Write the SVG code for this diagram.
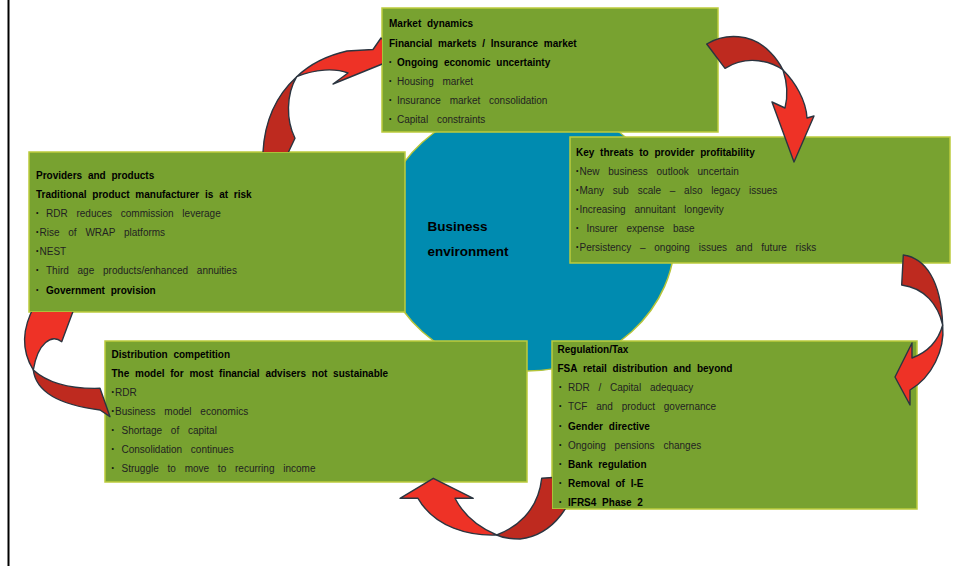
<svg xmlns="http://www.w3.org/2000/svg" width="954" height="566" viewBox="0 0 954 566">
<style>
  .box { fill: #78a230; stroke: #bccb3c; stroke-width: 1.5; }
  .h { font-family: "Liberation Sans", Arial, sans-serif; font-size: 10px; font-weight: bold; word-spacing: 3px; fill: #000; }
  .r { font-family: "Liberation Sans", Arial, sans-serif; font-size: 10px; word-spacing: 6px; fill: #222; }
  .bu { font-family: "Liberation Sans", Arial, sans-serif; font-size: 7px; fill: #111; baseline-shift: 1.6px; }
  .c { font-family: "Liberation Sans", Arial, sans-serif; font-size: 13.5px; font-weight: bold; fill: #000; }
  .dk { fill: #be2a1f; stroke: #2b3540; stroke-width: 1.4; stroke-linejoin: round; }
  .br { fill: #ee3226; stroke: #2b3540; stroke-width: 1.4; stroke-linejoin: round; }
</style>
<defs>
  <clipPath id="clip1"><path clip-rule="evenodd" d="M0,0H954V566H0Z M29,152H405V312H29Z M382,8H718V132H382Z"/></clipPath>
  <clipPath id="clip4"><path clip-rule="evenodd" d="M0,0H954V566H0Z M552,341H917V509H552Z"/></clipPath>
  <clipPath id="clip5"><path clip-rule="evenodd" d="M0,0H954V566H0Z M29,152H405V312H29Z"/></clipPath>
</defs>
<rect x="0" y="0" width="954" height="566" fill="#fff"/>
<line x1="8.5" y1="0" x2="8.5" y2="566" stroke="#000" stroke-width="2"/>

<g id="center">
  <ellipse cx="527" cy="237" rx="148" ry="134" fill="#008bb0" stroke="#b5c43a" stroke-width="1.5"/>
  <text class="c" x="427.5" y="230.5">Business</text>
  <text class="c" x="427.5" y="256">environment</text>
</g>

<g id="market">
  <rect class="box" x="382" y="8" width="336" height="124"/>
  <text class="h" x="389" y="27">Market dynamics</text>
  <text class="h" x="389" y="46.5">Financial markets / Insurance market</text>
  <text x="389" y="65.5"><tspan class="bu">•</tspan><tspan class="h" x="397">Ongoing economic uncertainty</tspan></text>
  <text x="389" y="84.5"><tspan class="bu">•</tspan><tspan class="r" x="397">Housing market</tspan></text>
  <text x="389" y="103.5"><tspan class="bu">•</tspan><tspan class="r" x="397">Insurance market consolidation</tspan></text>
  <text x="389" y="123"><tspan class="bu">•</tspan><tspan class="r" x="397">Capital constraints</tspan></text>
</g>

<g id="providers">
  <rect class="box" x="29" y="152" width="376" height="160"/>
  <text class="h" x="36" y="178.5">Providers and products</text>
  <text class="h" x="36" y="197.5">Traditional product manufacturer is at risk</text>
  <text x="36" y="216.5"><tspan class="bu">•</tspan><tspan class="r" x="46">RDR reduces commission leverage</tspan></text>
  <text x="36" y="235.5"><tspan class="bu">•</tspan><tspan class="r" x="39.5">Rise of WRAP platforms</tspan></text>
  <text x="36" y="254.5"><tspan class="bu">•</tspan><tspan class="r" x="39.5">NEST</tspan></text>
  <text x="36" y="274"><tspan class="bu">•</tspan><tspan class="r" x="46">Third age products/enhanced annuities</tspan></text>
  <text x="36" y="293.5"><tspan class="bu">•</tspan><tspan class="h" x="46">Government provision</tspan></text>
</g>

<g id="threats">
  <rect class="box" x="570" y="137" width="380" height="126"/>
  <text class="h" x="576" y="156">Key threats to provider profitability</text>
  <text x="576" y="174.5"><tspan class="bu">•</tspan><tspan class="r" x="579.5">New business outlook uncertain</tspan></text>
  <text x="576" y="194"><tspan class="bu">•</tspan><tspan class="r" x="579.5">Many sub scale – also legacy issues</tspan></text>
  <text x="576" y="213"><tspan class="bu">•</tspan><tspan class="r" x="579.5">Increasing annuitant longevity</tspan></text>
  <text x="576" y="232"><tspan class="bu">•</tspan><tspan class="r" x="586.5">Insurer expense base</tspan></text>
  <text x="576" y="251"><tspan class="bu">•</tspan><tspan class="r" x="579.5">Persistency – ongoing issues and future risks</tspan></text>
</g>

<g id="regulation">
  <rect class="box" x="552" y="341" width="365" height="168"/>
  <text class="h" x="557.5" y="352.5">Regulation/Tax</text>
  <text class="h" x="557.5" y="371.5">FSA retail distribution and beyond</text>
  <text x="559" y="391"><tspan class="bu">•</tspan><tspan class="r" x="568">RDR / Capital adequacy</tspan></text>
  <text x="559" y="410"><tspan class="bu">•</tspan><tspan class="r" x="568">TCF and product governance</tspan></text>
  <text x="559" y="429.5"><tspan class="bu">•</tspan><tspan class="h" x="568">Gender directive</tspan></text>
  <text x="559" y="448.5"><tspan class="bu">•</tspan><tspan class="r" x="568">Ongoing pensions changes</tspan></text>
  <text x="559" y="467.5"><tspan class="bu">•</tspan><tspan class="h" x="568">Bank regulation</tspan></text>
  <text x="559" y="486.5"><tspan class="bu">•</tspan><tspan class="h" x="568">Removal of I-E</tspan></text>
  <text x="559" y="506"><tspan class="bu">•</tspan><tspan class="h" x="568">IFRS4 Phase 2</tspan></text>
</g>

<g id="distribution">
  <rect class="box" x="105" y="341" width="422" height="141"/>
  <text class="h" x="111.5" y="357.5">Distribution competition</text>
  <text class="h" x="111.5" y="376.5">The model for most financial advisers not sustainable</text>
  <text x="111.5" y="395.5"><tspan class="bu">•</tspan><tspan class="r" x="115">RDR</tspan></text>
  <text x="111.5" y="415"><tspan class="bu">•</tspan><tspan class="r" x="115">Business model economics</tspan></text>
  <text x="111.5" y="434"><tspan class="bu">•</tspan><tspan class="r" x="121.5">Shortage of capital</tspan></text>
  <text x="111.5" y="453"><tspan class="bu">•</tspan><tspan class="r" x="121.5">Consolidation continues</tspan></text>
  <text x="111.5" y="472"><tspan class="bu">•</tspan><tspan class="r" x="121.5">Struggle to move to recurring income</tspan></text>
</g>

<g id="connectors">
  <g id="arrow-providers-market" clip-path="url(#clip1)">
    <path class="dk" d="M296.7,76.7 C280,92 265,115 263,152 L262,170 L280,170 L295,138.3 C286,120 286,95 296.7,76.7 Z"/>
    <path class="br" d="M296.7,76.7 C308,66 325,56 347,51 L373,49.5 L381,38 L402,56 L333,84 L348,73 C335,68 315,69 296.7,76.7 Z"/>
  </g>
  <g id="arrow-market-threats">
    <path class="dk" d="M706.7,44 C725,33 752,33 770,52 Q778,60 783,70 C772,62 748,54 725,68.3 Z"/>
    <path class="br" d="M783,70 C795,82 806,100 807,118 L814,116 L794,162 L772,102 L785,108 C788,96 787,82 783,70 Z"/>
  </g>
  <g id="arrow-threats-regulation">
    <path class="dk" d="M903.3,255 C925,258 941,280 942.7,325 C938,305 925,288 901.7,285 Z"/>
    <path class="br" d="M942.7,325 C945,350 932,377 910,390 L910,405 L895,377 L912,343 L912,358 C928,352 938,342 942.7,325 Z"/>
  </g>
  <g id="arrow-regulation-distribution" clip-path="url(#clip4)">
    <path class="dk" d="M541.7,478.3 L575,476 C576,500 555,535 520,539 Q505,539 496.7,535 C515,528 538,512 541.7,478.3 Z"/>
    <path class="br" d="M496.7,535 C470,536 435,528 418,498.3 L400,498.3 L433.3,478.3 L473.3,498.3 L455,498.3 C463,514 478,527 496.7,535 Z"/>
  </g>
  <g id="arrow-distribution-providers" clip-path="url(#clip5)">
    <path class="dk" d="M33.3,370 C36,392 60,405 100,410 L110,416.7 L100,388.3 C75,389 50,385 33.3,370 Z"/>
    <path class="br" d="M33.3,370 C21,350 22,328 35,305 L34,300 L55,280 L78,298 L61.7,341.7 C52,334 38,342 33.3,370 Z"/>
  </g>
</g>
</svg>
